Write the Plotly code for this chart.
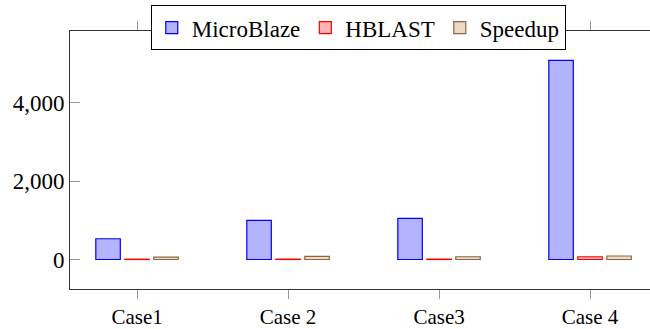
import plotly.graph_objects as go

categories = ["Case1", "Case 2", "Case3", "Case 4"]
microblaze = [530, 1000, 1050, 5090]
hblast = [8, 10, 10, 70]
speedup = [60, 80, 70, 90]

series = [
    ("MicroBlaze", microblaze, "#b3b3ff", "#0000ff"),
    ("HBLAST", hblast, "#ffb3b3", "#ff0000"),
    ("Speedup", speedup, "#ecd9c6", "#8c6640"),
]

FONT = "Liberation Serif, Times New Roman, Times, serif"

fig = go.Figure()
for name, vals, fill, line in series:
    fig.add_trace(go.Bar(
        x=list(range(len(categories))), y=vals, name=name,
        marker=dict(color=fill, line=dict(color=line, width=1.2)),
    ))

fig.update_layout(
    width=650, height=329,
    margin=dict(l=70, r=0, t=31, b=40, autoexpand=False),
    paper_bgcolor="white", plot_bgcolor="white",
    barmode="group", bargap=0.424, bargroupgap=0.155,
    font=dict(family=FONT, size=23, color="black"),
    showlegend=True,
    legend=dict(
        orientation="h", x=0.497, xanchor="center", y=1.1, yanchor="top",
        yref="paper",
        bordercolor="black", borderwidth=1, bgcolor="white",
        font=dict(family=FONT, size=23), itemwidth=30,
        tracegroupgap=0,
    ),
    yaxis2=dict(
        overlaying="y", side="right", matches="y", showline=False,
        ticks="inside", ticklen=3, tickcolor="#999999", tickwidth=1,
        tickvals=[0, 2000, 4000], showticklabels=False,
        showgrid=False, zeroline=False,
    ),
)
fig.update_xaxes(
    range=[-0.444, 3.397], tickmode="array",
    tickvals=list(range(len(categories))), ticktext=categories,
    showline=True, linecolor="#333333", linewidth=1, mirror="ticks",
    ticks="outside", ticklen=9, tickcolor="#999999", tickwidth=1,
    tickfont=dict(family=FONT, size=21),
    showgrid=False, zeroline=False,
)
fig.update_yaxes(
    selector=dict(overlaying=None),
    range=[-754, 5840], tickvals=[0, 2000, 4000], tickformat=",",
    showline=True, linecolor="#333333", linewidth=1, mirror=False,
    ticks="inside", ticklen=10, tickcolor="#999999", tickwidth=1,
    showgrid=False, zeroline=False,
)

fig.write_html("out.html")
